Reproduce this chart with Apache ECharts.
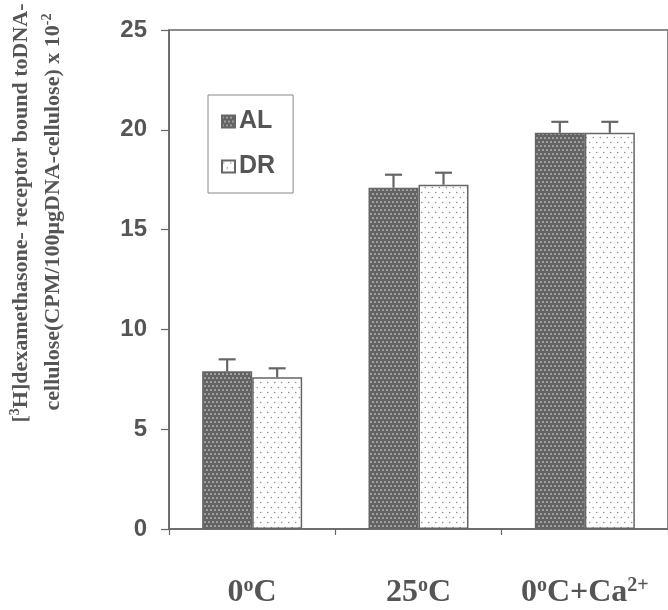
<!DOCTYPE html>
<html>
<head>
<meta charset="utf-8">
<script src="https://cdn.jsdelivr.net/npm/echarts@6/dist/echarts.min.js"></script>
<style>
html,body{margin:0;padding:0;background:#fff;}
#chart{width:668px;height:610px;}
</style>
</head>
<body>
<div id="chart"></div>
<script>
// ---- data ----
const categories = ['0°C', '25°C', '0°C+Ca²⁺'];
const seriesNames = ['AL', 'DR'];
const AL = [7.9, 17.1, 19.85];
const ALerr = [0.6, 0.65, 0.55];
const DR = [7.6, 17.25, 19.85];
const DRerr = [0.45, 0.6, 0.55];
const yTicks = [0, 5, 10, 15, 20, 25];

// ---- styles ----
const INK = '#666666';
const TXT = '#555555';
const BAR_W = 50;

function dotPattern(bg, dot, sx, sy, r, stagger) {
  const c = document.createElement('canvas');
  c.width = sx * 2; c.height = sy * 2;
  const g = c.getContext('2d');
  g.fillStyle = bg; g.fillRect(0, 0, c.width, c.height);
  g.fillStyle = dot;
  for (let row = 0; row < 2; row++) {
    for (let col = 0; col < 2; col++) {
      const off = stagger && row % 2 ? sx / 2 : 0;
      g.beginPath();
      g.arc(col * sx + off + sx / 4, row * sy + sy / 2, r, 0, Math.PI * 2);
      g.fill();
    }
  }
  return c;
}
const alPattern = { image: dotPattern('#636363', '#dcdcdc', 4, 4, 0.85, true), repeat: 'repeat' };
const drPattern = { image: dotPattern('#ffffff', '#7a7a7a', 7, 5, 0.7, true), repeat: 'repeat' };

function catLabel(s) {
  return s.replace(/²⁺/, '{s|2+}').replace(/°/g, '{s|o}')
          .split(/(\{s\|[^}]*\})/).map(p => p.startsWith('{s|') ? p : (p ? '{b|' + p + '}' : '')).join('');
}

function errorSeries(name, vals, errs, dx) {
  return {
    type: 'custom',
    name: name + ' err',
    z: 5,
    data: vals.map((v, i) => [i, v, v + errs[i]]),
    renderItem: function (params, api) {
      const lo = api.coord([api.value(0), api.value(1)]);
      const hi = api.coord([api.value(0), api.value(2)]);
      const x = lo[0] + dx;
      const st = { stroke: INK, lineWidth: 2.2 };
      return {
        type: 'group',
        children: [
          { type: 'line', shape: { x1: x, y1: lo[1], x2: x, y2: hi[1] }, style: st },
          { type: 'line', shape: { x1: x - 8.5, y1: hi[1], x2: x + 8.5, y2: hi[1] }, style: st }
        ]
      };
    },
    tooltip: { show: false },
    silent: true
  };
}

const nameRich = {
  n: { fontFamily: 'Liberation Serif, Times New Roman', fontWeight: 'bold', fontSize: 22, fill: TXT, lineHeight: 28 },
  s: { fontFamily: 'Liberation Serif, Times New Roman', fontWeight: 'bold', fontSize: 14, fill: TXT, lineHeight: 28, padding: [0, 0, 11, 0] }
};

const chart = echarts.init(document.getElementById('chart'), null, { renderer: 'canvas' });
chart.setOption({
  animation: false,
  backgroundColor: '#ffffff',
  grid: { left: 169, top: 30, width: 501, height: 500, show: true, borderColor: INK, borderWidth: 1.5, containLabel: false },
  legend: {
    data: seriesNames,
    orient: 'vertical',
    icon: 'rect',
    left: 208, top: 95,
    padding: [14, 18, 14, 13],
    borderColor: '#888', borderWidth: 1,
    itemWidth: 13, itemHeight: 12, itemGap: 20,
    textStyle: { fontFamily: 'Liberation Sans, Arial', fontWeight: 'bold', fontSize: 25, color: TXT, padding: [0, 0, 0, -1] }
  },
  xAxis: {
    type: 'category',
    data: categories,
    axisLine: { lineStyle: { color: INK, width: 1.5 } },
    axisTick: { show: true, length: 6, lineStyle: { color: INK, width: 1.2 } },
    axisLabel: {
      margin: 47,
      formatter: catLabel,
      rich: {
        b: { fontFamily: 'Liberation Serif, Times New Roman', fontWeight: 'bold', fontSize: 32, color: TXT, lineHeight: 34 },
        s: { fontFamily: 'Liberation Serif, Times New Roman', fontWeight: 'bold', fontSize: 20, color: TXT, verticalAlign: 'top', lineHeight: 34, padding: [0, 0, 14, 0] }
      }
    }
  },
  yAxis: {
    type: 'value',
    min: yTicks[0], max: yTicks[yTicks.length - 1], interval: 5,
    axisLine: { show: true, lineStyle: { color: INK, width: 1.5 } },
    axisTick: { show: true, length: 8, lineStyle: { color: INK, width: 1.2 } },
    splitLine: { show: false },
    axisLabel: { margin: 22, fontFamily: 'Liberation Sans, Arial', fontWeight: 'bold', fontSize: 24, color: TXT }
  },
  graphic: [
    {
      type: 'text', x: 21, y: 213, rotation: Math.PI / 2,
      style: {
        text: '{n|[}{s|3}{n|H]dexamethasone- receptor bound toDNA-}',
        align: 'center', verticalAlign: 'middle',
        rich: nameRich
      }
    },
    {
      type: 'text', x: 53, y: 212, rotation: Math.PI / 2,
      style: {
        text: '{n|cellulose(CPM/100μgDNA-cellulose) x 10}{s|-2}',
        align: 'center', verticalAlign: 'middle',
        rich: nameRich
      }
    }
  ],
  series: [
    { name: 'AL', type: 'bar', data: AL, barWidth: BAR_W, barGap: '0%',
      itemStyle: { color: alPattern, borderColor: INK, borderWidth: 1.5 } },
    { name: 'DR', type: 'bar', data: DR, barWidth: BAR_W, barGap: '0%',
      itemStyle: { color: drPattern, borderColor: INK, borderWidth: 1.5 } },
    errorSeries('AL', AL, ALerr, -BAR_W / 2),
    errorSeries('DR', DR, DRerr, BAR_W / 2)
  ]
});
</script>
</body>
</html>
